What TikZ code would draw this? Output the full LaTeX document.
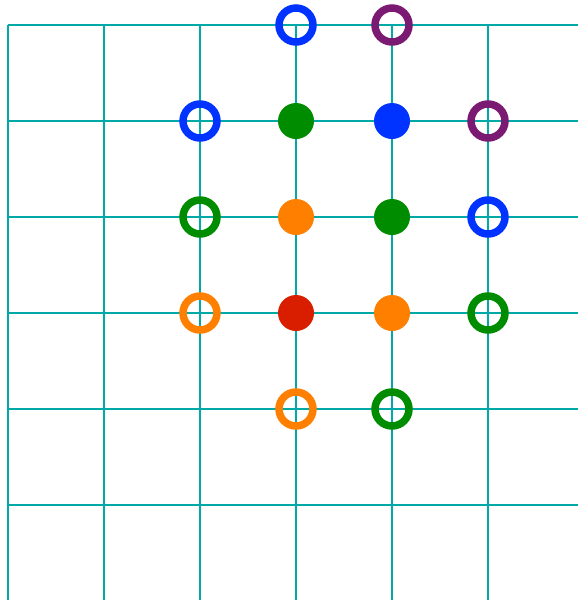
\documentclass[tikz,border=0pt]{standalone}
\begin{document}
\begin{tikzpicture}[x=1pt,y=-1pt,
  gridline/.style={draw=gridc,line width=2.2pt},
  ring/.style={circle,draw=#1,fill=none,line width=7.5pt,inner sep=0pt,minimum size=34pt},
  dot/.style={circle,fill=#1,draw=none,inner sep=0pt,minimum size=36pt}]
\definecolor{gridc}{RGB}{0,168,168}
\definecolor{cblue}{RGB}{0,51,255}
\definecolor{cpurple}{RGB}{123,26,114}
\definecolor{cgreen}{RGB}{0,140,0}
\definecolor{corange}{RGB}{255,127,0}
\definecolor{cred}{RGB}{217,30,0}
\useasboundingbox (0,0) rectangle (578,600);
\foreach \x in {8,104,200,296,392,488} \draw[gridline] (\x,25) -- (\x,600);
\foreach \y in {25,121,217,313,409,505} \draw[gridline] (8,\y) -- (578,\y);
\node[ring=cblue] (r1) at (296,25) {};
\node[ring=cpurple] (r2) at (392,25) {};
\node[ring=cblue] (r3) at (200,121) {};
\node[dot=cgreen] (d1) at (296,121) {};
\node[dot=cblue] (d2) at (392,121) {};
\node[ring=cpurple] (r4) at (488,121) {};
\node[ring=cgreen] (r5) at (200,217) {};
\node[dot=corange] (d3) at (296,217) {};
\node[dot=cgreen] (d4) at (392,217) {};
\node[ring=cblue] (r6) at (488,217) {};
\node[ring=corange] (r7) at (200,313) {};
\node[dot=cred] (d5) at (296,313) {};
\node[dot=corange] (d6) at (392,313) {};
\node[ring=cgreen] (r8) at (488,313) {};
\node[ring=corange] (r9) at (296,409) {};
\node[ring=cgreen] (r10) at (392,409) {};
\end{tikzpicture}
\end{document}
